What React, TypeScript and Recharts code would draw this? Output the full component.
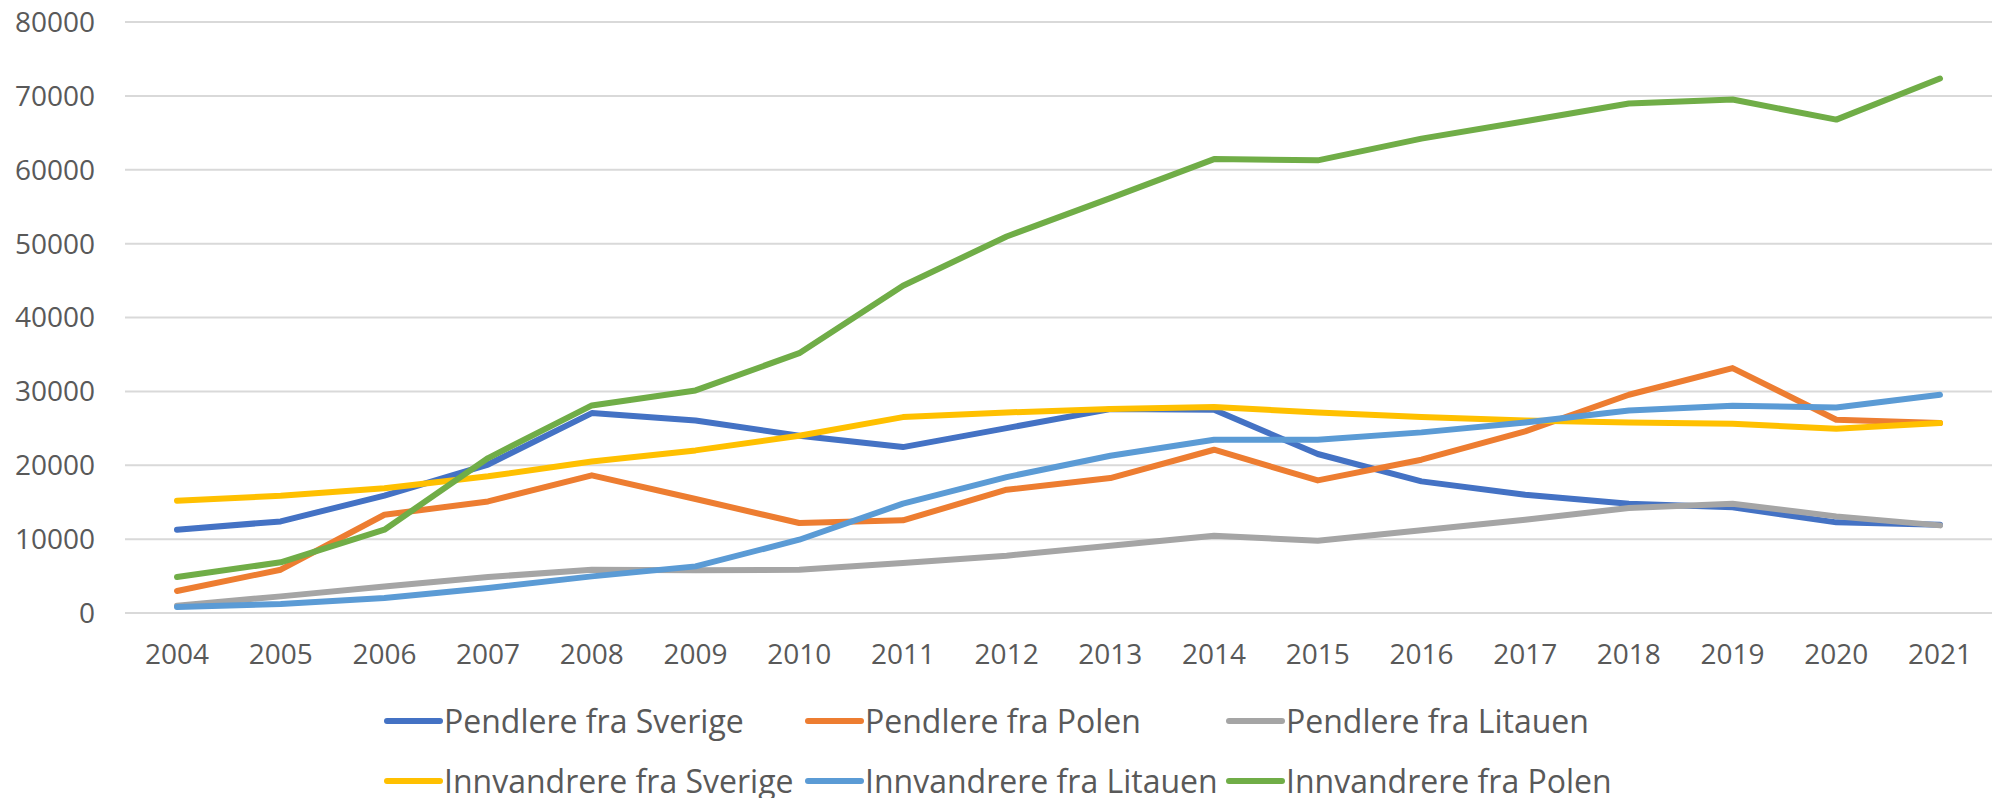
import { LineChart, Line, XAxis, YAxis, CartesianGrid, Legend } from 'recharts'

const years = [
  '2004', '2005', '2006', '2007', '2008', '2009', '2010', '2011', '2012',
  '2013', '2014', '2015', '2016', '2017', '2018', '2019', '2020', '2021',
]

const pendlereSverige = [
  11280, 12400, 15900, 20100, 27060, 26070, 24000, 22460, 25030,
  27600, 27500, 21520, 17820, 16010, 14800, 14300, 12270, 11950,
]
const pendlerePolen = [
  2980, 5860, 13300, 15100, 18630, 15430, 12180, 12540, 16690,
  18270, 22100, 17950, 20750, 24580, 29540, 33150, 26160, 25710,
]
const pendlereLitauen = [
  990, 2250, 3600, 4870, 5860, 5770, 5860, 6770, 7760,
  9110, 10460, 9790, 11190, 12630, 14210, 14800, 13080, 11860,
]
const innvandrereSverige = [
  15200, 15880, 16900, 18500, 20500, 22010, 24000, 26520, 27150,
  27600, 27880, 27150, 26520, 26070, 25800, 25620, 24940, 25710,
]
const innvandrereLitauen = [
  810, 1220, 2030, 3380, 4960, 6310, 9920, 14800, 18400,
  21290, 23460, 23460, 24450, 25800, 27420, 28060, 27830, 29540,
]
const innvandrerePolen = [
  4870, 6860, 11280, 20970, 28100, 30130, 35170, 44290, 50970,
  56160, 61440, 61270, 64210, 66560, 68960, 69500, 66790, 72350,
]

const yTicks = [0, 10000, 20000, 30000, 40000, 50000, 60000, 70000, 80000]

const series = [
  { key: 'ps', name: 'Pendlere fra Sverige', color: '#4472C4', values: pendlereSverige },
  { key: 'pp', name: 'Pendlere fra Polen', color: '#ED7D31', values: pendlerePolen },
  { key: 'pl', name: 'Pendlere fra Litauen', color: '#A5A5A5', values: pendlereLitauen },
  { key: 'is', name: 'Innvandrere fra Sverige', color: '#FFC000', values: innvandrereSverige },
  { key: 'il', name: 'Innvandrere fra Litauen', color: '#5B9BD5', values: innvandrereLitauen },
  { key: 'ip', name: 'Innvandrere fra Polen', color: '#70AD47', values: innvandrerePolen },
]

const data = years.map((year, i) => {
  const row: Record<string, string | number> = { year }
  series.forEach((s) => {
    row[s.key] = s.values[i]
  })
  return row
})

const FONT = '"Open Sans", sans-serif'
const TEXT = '#595959'

function GridLegend({ payload }: any) {
  // keep the series order, recharts sorts by name otherwise
  const items = [...(payload || [])].sort(
    (a: any, b: any) =>
      series.findIndex((s) => s.name === a.value) - series.findIndex((s) => s.name === b.value),
  )
  return (
    <div
      style={{
        height: 125,
        paddingTop: 18,
        paddingLeft: 383,
        boxSizing: 'border-box',
        display: 'grid',
        gridTemplateColumns: 'repeat(3, 421px)',
        gridAutoRows: '60px',
      }}
    >
      {items.map((p: any) => (
        <div key={p.value} style={{ display: 'flex', alignItems: 'center' }}>
          <svg width={61} height={10} style={{ display: 'block' }}>
            <line x1={4} y1={5} x2={57} y2={5} stroke={p.color} strokeWidth={6} strokeLinecap="round" />
          </svg>
          <span
            style={{
              fontFamily: FONT,
              fontSize: 32,
              lineHeight: 1,
              color: TEXT,
              whiteSpace: 'nowrap',
            }}
          >
            {p.value}
          </span>
        </div>
      ))}
    </div>
  )
}

export default function App() {
  return (
    <div
      style={{
        position: 'absolute',
        left: 0,
        top: 0,
        width: 1992,
        height: 798,
        overflow: 'hidden',
        background: '#fff',
      }}
    >
      <LineChart width={1992} height={798} data={data} margin={{ top: 22, right: 0, left: 0, bottom: 0 }}>
        <CartesianGrid vertical={false} stroke="#d9d9d9" strokeWidth={2} />
        <XAxis
          dataKey="year"
          height={60}
          interval={0}
          padding={{ left: 52, right: 52 }}
          axisLine={false}
          tickLine={false}
          tickSize={0}
          tickMargin={31}
          tick={{ fill: TEXT, fontSize: 28, fontFamily: FONT }}
        />
        <YAxis
          width={125}
          domain={[0, 80000]}
          ticks={yTicks}
          axisLine={false}
          tickLine={false}
          tickSize={0}
          tickMargin={30}
          tick={{ fill: TEXT, fontSize: 28, fontFamily: FONT }}
        />
        <Legend
          verticalAlign="bottom"
          content={<GridLegend />}
          wrapperStyle={{ left: 0, width: 1992, height: 125 }}
        />
        {series.map((s) => (
          <Line
            key={s.key}
            dataKey={s.key}
            name={s.name}
            stroke={s.color}
            strokeWidth={6}
            strokeLinecap="round"
            strokeLinejoin="round"
            dot={false}
            activeDot={false}
            isAnimationActive={false}
          />
        ))}
      </LineChart>
    </div>
  )
}
